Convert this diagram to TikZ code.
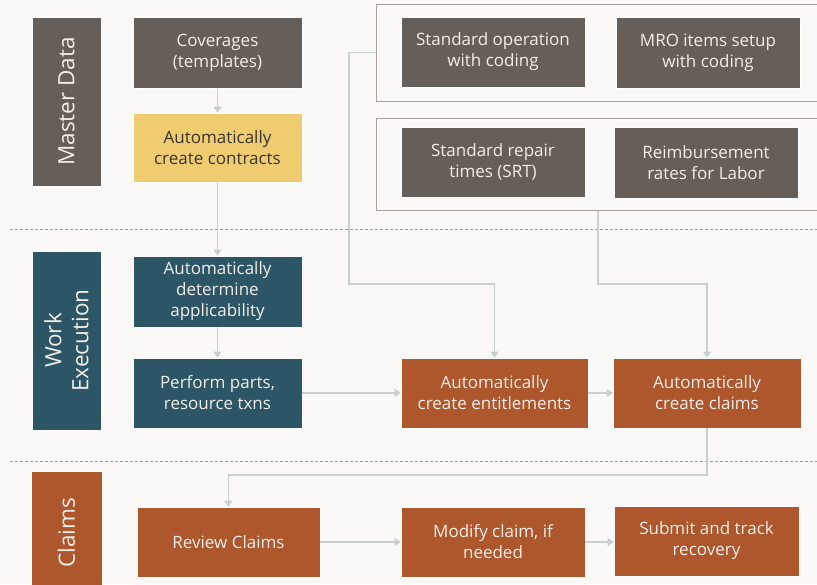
\documentclass[tikz,border=0pt]{standalone}
\usepackage{fontspec}
\setmainfont{Open Sans}
\usetikzlibrary{arrows.meta}
\definecolor{bgc}{HTML}{FAF9F7}
\definecolor{greyc}{HTML}{665E58}
\definecolor{yellowc}{HTML}{F0CC71}
\definecolor{tealc}{HTML}{2C5566}
\definecolor{orangec}{HTML}{AE562C}
\definecolor{arrc}{HTML}{C8CFCF}
\definecolor{grpc}{HTML}{A8A09A}
\definecolor{lightt}{HTML}{F2EEEA}
\definecolor{darkt}{HTML}{3A3530}
\definecolor{dashc}{HTML}{9A9A9A}
\tikzset{
  box/.style={draw=white, line width=0.6pt, inner sep=0pt, align=center, font=\fontsize{17}{21}\selectfont, text=lightt},
  greybox/.style={box, fill=greyc},
  yellowbox/.style={box, fill=yellowc, text=darkt},
  tealbox/.style={box, fill=tealc},
  orangebox/.style={box, fill=orangec},
  lane/.style={box, font=\fontsize{22.5}{27}\selectfont, rotate=90},
  grp/.style={draw=grpc, line width=1pt, inner sep=0pt},
  arr/.style={draw=arrc, line width=1.2pt, -{Triangle[width=8pt,length=6pt]}},
  sep/.style={draw=dashc, line width=0.8pt, dash pattern=on 3pt off 2pt},
}
\begin{document}
\begin{tikzpicture}[x=1pt,y=-1pt]
\fill[bgc] (0,0) rectangle (817,584);
\useasboundingbox (0,0) rectangle (817,584);
% separators
\draw[sep] (10,229.5) -- (817,229.5);
\draw[sep] (10,461) -- (817,461);
% group frames
\node[grp, minimum width=444pt, minimum height=97pt] (grp1) at (598,52.5) {};
\node[grp, minimum width=444pt, minimum height=92pt] (grp2) at (598,164) {};
% lane labels
\node[lane, fill=greyc, minimum width=169pt, minimum height=69pt] (lmd) at (66.5,101.5) {Master Data};
\node[lane, fill=tealc, minimum width=179pt, minimum height=69pt] (lwe) at (66.5,340.5) {Work\\Execution};
\node[lane, fill=orangec, minimum width=124pt, minimum height=71pt] (lcl) at (66.5,533) {Claims};
% master data
\node[greybox, minimum width=169pt, minimum height=71pt] (cov) at (217.5,52.5) {Coverages\\(templates)};
\node[yellowbox, minimum width=169pt, minimum height=69pt] (con) at (217.5,147.5) {Automatically\\create contracts};
\node[greybox, minimum width=184pt, minimum height=70pt] (sop) at (493,52) {Standard operation\\with coding};
\node[greybox, minimum width=184pt, minimum height=71pt] (mro) at (708,52.5) {MRO items setup\\with coding};
\node[greybox, minimum width=184pt, minimum height=70pt] (srt) at (493,162) {Standard repair\\times (SRT)};
\node[greybox, minimum width=184pt, minimum height=71pt] (rei) at (706,162.5) {Reimbursement\\rates for Labor};
% work execution
\node[tealbox, minimum width=169pt, minimum height=71pt] (det) at (217.5,291.5) {Automatically\\determine\\applicability};
\node[tealbox, minimum width=169pt, minimum height=70pt] (perf) at (217.5,393) {Perform parts,\\resource txns};
\node[orangebox, minimum width=187pt, minimum height=70pt] (ent) at (494.5,393) {Automatically\\create entitlements};
\node[orangebox, minimum width=188pt, minimum height=70pt] (cc) at (707,393) {Automatically\\create claims};
% claims
\node[orangebox, minimum width=183pt, minimum height=70pt] (rev) at (228.5,542) {Review Claims};
\node[orangebox, minimum width=184pt, minimum height=70pt] (mod) at (493,542) {Modify claim, if\\needed};
\node[orangebox, minimum width=185pt, minimum height=70pt] (sub) at (706.5,541) {Submit and track\\recovery};
% junctions
\coordinate (j1) at (349,284);
\coordinate (j2) at (598,284);
\coordinate (j3) at (707,475);
% connectors
\draw[arr] (cov) -- (con);
\draw[arr] (con) -- (det);
\draw[arr] (det) -- (perf);
\draw[arr] (perf) -- (ent);
\draw[arr] (ent) -- (cc);
\draw[arr] (grp1.west) -| (j1) -| (ent.north);
\draw[arr] (grp2.south) -- (j2) -| (cc.north);
\draw[arr] (cc.south) -- (j3) -| (rev.north);
\draw[arr] (rev) -- (mod);
\draw[arr] (mod.east) -- (sub.west |- mod.east);
\end{tikzpicture}
\end{document}
